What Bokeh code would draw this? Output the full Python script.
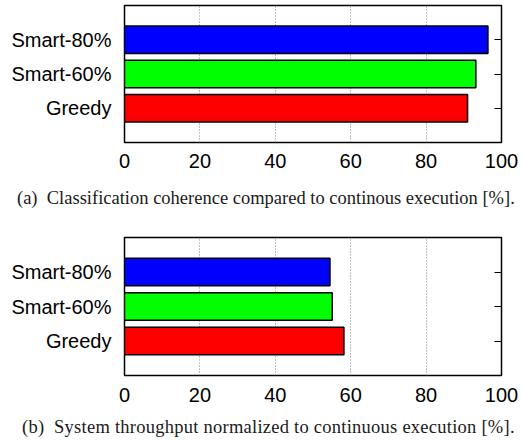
from bokeh.plotting import figure
from bokeh.layouts import column
from bokeh.models import FixedTicker, LinearAxis, Range1d, Div
from bokeh.embed import file_html
from bokeh.resources import INLINE

categories = ["Greedy", "Smart-60%", "Smart-80%"]
colors = ["#ff0000", "#00ff00", "#0000ff"]
coherence = [91.0, 93.2, 96.4]
throughput = [58.2, 55.1, 54.5]
x_ticks = [0, 20, 40, 60, 80, 100]
grid_ticks = [20, 40, 60, 80]
caption_a = "(a)&nbsp;&nbsp;Classification coherence compared to continous execution [%]."
caption_b = "(b)&nbsp;&nbsp;System throughput normalized to continuous execution [%]."

ypos = list(range(len(categories)))


def make(values, left, right, top, bottom, height, xstand):
    p = figure(width=522, height=height, output_backend="svg", toolbar_location=None,
               x_range=Range1d(0, 100), y_range=Range1d(-1, 3),
               min_border_left=left, min_border_right=right,
               min_border_top=top, min_border_bottom=bottom, margin=0)
    p.hbar(y=ypos, right=values, left=0, height=0.8, fill_color=colors,
           line_color="black", line_width=1.5)
    p.outline_line_color = "black"
    p.outline_line_width = 1.5
    p.outline_line_alpha = 1.0
    # x axis
    xa = p.xaxis[0]
    xa.ticker = FixedTicker(ticks=x_ticks)
    xa.axis_line_color = None
    xa.major_tick_line_color = None
    xa.minor_tick_line_color = None
    xa.major_tick_out = 0
    xa.major_label_standoff = xstand
    xa.major_label_text_font = "Liberation Sans"
    xa.major_label_text_font_size = "20px"
    xa.major_label_text_color = "black"
    # y axis
    ya = p.yaxis[0]
    ya.ticker = FixedTicker(ticks=ypos)
    ya.major_label_overrides = {i: c for i, c in zip(ypos, categories)}
    ya.axis_line_color = None
    ya.major_tick_line_color = None
    ya.minor_tick_line_color = None
    ya.major_tick_out = 0
    ya.major_label_standoff = 13
    ya.major_label_text_font = "Liberation Sans"
    ya.major_label_text_font_size = "20px"
    ya.major_label_text_color = "black"
    # right inward ticks (no labels)
    ra = LinearAxis(ticker=FixedTicker(ticks=ypos),
                    major_label_overrides={i: "" for i in ypos},
                    axis_line_color=None, major_tick_in=7, major_tick_out=0,
                    major_tick_line_color="black", major_tick_line_width=1,
                    minor_tick_line_color=None, major_label_standoff=0)
    p.add_layout(ra, "right")
    # grid
    p.ygrid.grid_line_color = None
    p.xgrid.ticker = FixedTicker(ticks=grid_ticks)
    p.xgrid.grid_line_color = "#808080"
    p.xgrid.grid_line_dash = "1 2"
    p.xgrid.grid_line_width = 1
    return p


def caption(text, top, left, height, spacing):
    html = ('<div style="position:relative; top:%dpx; left:%dpx; '
            'font-family:\'Liberation Serif\'; font-size:18.5px; line-height:22px; '
            'letter-spacing:%spx; white-space:nowrap; color:#1a1a1a;">%s</div>'
            % (top, left, spacing, text))
    return Div(text=html, width=522, height=height, margin=0)


p1 = make(coherence, 124, 18, 5, 36, 178, 11)
d1 = caption(caption_a, 9, 17, 44, 0)
p2 = make(throughput, 121, 21, 15, 34, 187, 12)
d2 = caption(caption_b, 7, 22, 35, 0.25)

layout = column(p1, d1, p2, d2, spacing=0)
open("out.html", "w").write(file_html(layout, INLINE))
